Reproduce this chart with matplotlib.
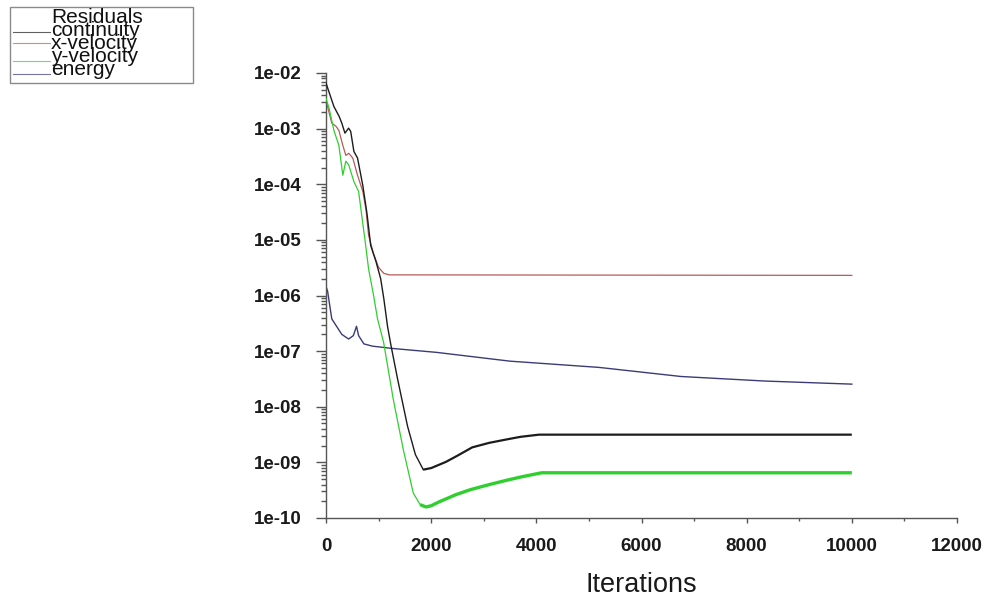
import numpy as np
import matplotlib
matplotlib.use("Agg")
import matplotlib.pyplot as plt
from matplotlib.lines import Line2D
from matplotlib.patches import Rectangle
from matplotlib.ticker import FixedLocator, LogLocator, FuncFormatter, NullFormatter

# ---- residual histories (iteration, residual) ----
cont_iter = [0, 150, 250, 300, 360, 430, 470, 530, 600, 700, 780, 850, 950, 1040, 1100,
             1170, 1230, 1360, 1550, 1700, 1850, 2000, 2280, 2500, 2780, 3100, 3420, 3700,
             4050, 10000]
cont_res = [6.6e-3, 2.5e-3, 1.66e-3, 1.26e-3, 8.3e-4, 1.02e-3, 8.9e-4, 3.9e-4, 2.95e-4, 9.5e-5,
            2.95e-5, 7.9e-6, 4.1e-6, 2.0e-6, 8.7e-7, 2.8e-7, 1.35e-7, 3.2e-8, 4.5e-9, 1.38e-9,
            7.4e-10, 7.9e-10, 1.02e-9, 1.32e-9, 1.86e-9, 2.24e-9, 2.57e-9, 2.88e-9, 3.15e-9,
            3.15e-9]

xvel_iter = [0, 110, 190, 245, 320, 377, 434, 510, 600, 700, 760, 810, 905, 1000, 1100, 1200, 10000]
xvel_res = [3.2e-3, 1.26e-3, 1.1e-3, 9.3e-4, 5.0e-4, 3.3e-4, 3.6e-4, 2.95e-4, 1.45e-4, 7.4e-5,
            3.5e-5, 1.2e-5, 5.6e-6, 3.2e-6, 2.5e-6, 2.35e-6, 2.3e-6]

yvel_iter = [0, 60, 150, 245, 320, 377, 434, 530, 620, 755, 810, 905, 980, 1095, 1280, 1470,
             1660, 1790, 1900, 2000, 2150, 2300, 2470, 2750, 3100, 3400, 3720, 4100, 10000]
yvel_res = [3.5e-3, 2.3e-3, 9.3e-4, 5.0e-4, 1.45e-4, 2.6e-4, 2.2e-4, 1.12e-4, 7.4e-5, 7.9e-6,
            3.0e-6, 1.0e-6, 3.8e-7, 1.45e-7, 1.35e-8, 1.7e-9, 2.8e-10, 1.74e-10, 1.58e-10,
            1.66e-10, 1.95e-10, 2.24e-10, 2.63e-10, 3.24e-10, 3.98e-10, 4.68e-10, 5.5e-10,
            6.5e-10, 6.5e-10]

energy_iter = [0, 30, 110, 170, 300, 430, 520, 580, 620, 720, 880, 1250, 2100, 3500, 5190,
               6750, 8340, 10000]
energy_res = [1.45e-6, 1.2e-6, 3.8e-7, 3.1e-7, 2.0e-7, 1.65e-7, 1.9e-7, 2.8e-7, 1.9e-7, 1.35e-7,
              1.23e-7, 1.12e-7, 9.5e-8, 6.6e-8, 5.1e-8, 3.5e-8, 2.9e-8, 2.55e-8]

series_labels = ["continuity", "x-velocity", "y-velocity", "energy"]
legend_title = "Residuals"
x_label = "Iterations"
x_ticks = [0, 2000, 4000, 6000, 8000, 10000, 12000]

C_CONT = "#1c1c1c"
C_XVEL = "#b85a5a"
C_YVEL = "#2fcf2f"
C_ENER = "#3b3b78"

W, H = 987, 597
fig = plt.figure(figsize=(W / 100, H / 100), dpi=100)
fig.patch.set_facecolor("white")

ax = fig.add_axes([326 / W, 1 - 518 / H, 631 / W, 445 / H])
ax.set_yscale("log")
ax.set_xlim(0, 12000)
ax.set_ylim(1e-10, 1e-2)

# thin lines during the initial drop, heavier once converged
def split_plot(it, res, color, k, lw_a, lw_b):
    ax.plot(it[:k + 1], res[:k + 1], color=color, lw=lw_a, zorder=3)
    ax.plot(it[k:], res[k:], color=color, lw=lw_b, zorder=3, solid_capstyle="butt")

ax.plot(xvel_iter, xvel_res, color=C_XVEL, lw=0.9, zorder=2)
ax.plot(energy_iter, energy_res, color=C_ENER, lw=1.0, zorder=2)
split_plot(cont_iter, cont_res, C_CONT, cont_iter.index(1850), 1.0, 1.6)
split_plot(yvel_iter, yvel_res, C_YVEL, yvel_iter.index(1790), 0.9, 2.4)

for s in ("top", "right"):
    ax.spines[s].set_visible(False)
for s in ("left", "bottom"):
    ax.spines[s].set_color("#555555")
    ax.spines[s].set_linewidth(1.0)

tick_font = dict(family="Liberation Sans", size=13.5, weight="bold")
ax.yaxis.set_major_locator(LogLocator(base=10, numticks=20))
ax.yaxis.set_minor_locator(LogLocator(base=10, subs=np.arange(2, 10), numticks=20))
ax.yaxis.set_minor_formatter(NullFormatter())
ax.yaxis.set_major_formatter(FuncFormatter(lambda v, p: f"1e-{int(round(-np.log10(v))):02d}"))
ax.xaxis.set_major_locator(FixedLocator(x_ticks))
ax.xaxis.set_minor_locator(FixedLocator([1000, 3000, 5000, 7000, 9000, 11000]))

ax.tick_params(axis="y", which="major", direction="out", length=7.5, width=1.0,
               color="#555555", pad=10, labelcolor="#1a1a1a")
ax.tick_params(axis="y", which="minor", direction="out", length=3.5, width=1.0, color="#555555")
ax.tick_params(axis="x", which="major", direction="out", length=3.5, width=1.0,
               color="#555555", pad=11, labelcolor="#1a1a1a")
ax.tick_params(axis="x", which="minor", direction="out", length=2.5, width=1.0, color="#555555")
for lab in ax.get_xticklabels() + ax.get_yticklabels():
    lab.set_fontfamily(tick_font["family"])
    lab.set_fontsize(tick_font["size"])
    lab.set_fontweight(tick_font["weight"])

ax.set_xlabel(x_label, fontsize=19.5, family="Liberation Sans", color="#1a1a1a", labelpad=12)

# ---- residual legend box in the upper left corner ----
def fpt(x, y):
    return (x / W, 1 - y / H)

box = Rectangle(fpt(10, 83), 183 / W, 76 / H, transform=fig.transFigure,
                fill=False, edgecolor="#8a8a8a", lw=1.0)
fig.add_artist(box)
leg_font = dict(family="Liberation Sans", size=15, color="#111111")
fig.text(*fpt(51, 23), legend_title, transform=fig.transFigure, va="baseline", ha="left", **leg_font)
entries = [(C_CONT, 32, 36), (C_XVEL, 43, 49), (C_YVEL, 61, 62), (C_ENER, 74, 75)]
for label, (col, ly, ty) in zip(series_labels, entries):
    (x0, y0), (x1, _) = fpt(13, ly), fpt(50, ly)
    fig.add_artist(Line2D([x0, x1], [y0, y0], transform=fig.transFigure, color=col,
                          lw=0.8, alpha=0.7))
    fig.text(*fpt(51, ty), label, transform=fig.transFigure, va="baseline", ha="left", **leg_font)

fig.savefig("out.png", dpi=100)
